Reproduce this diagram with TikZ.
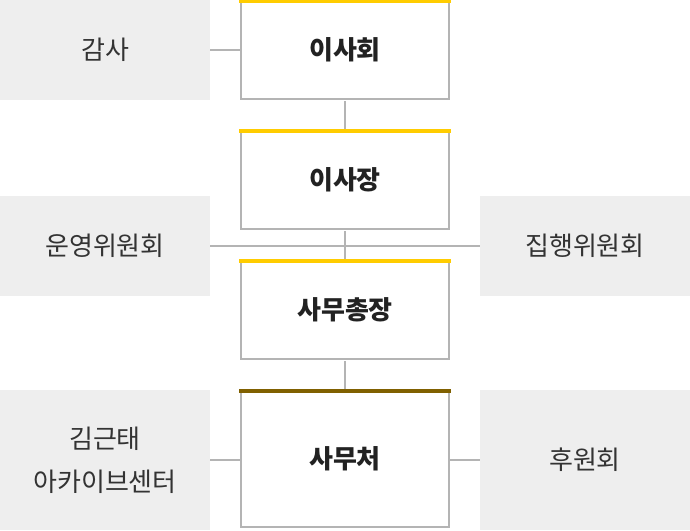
\documentclass[tikz,border=0pt]{standalone}
\usepackage{fontspec}
\newfontfamily\kr{Noto Sans CJK KR}
\definecolor{sidefill}{RGB}{238,238,238}
\definecolor{boxline}{RGB}{180,180,180}
\definecolor{topyellow}{RGB}{255,204,0}
\definecolor{topbrown}{RGB}{128,96,0}
\definecolor{maintext}{RGB}{34,34,34}
\definecolor{sidetext}{RGB}{51,51,51}
\tikzset{
  mainbox/.style={draw=boxline, line width=2pt, fill=white, minimum width=208pt, inner sep=0pt, font=\kr\bfseries\fontsize{26pt}{30pt}\selectfont, text=maintext},
  sidebox/.style={fill=sidefill, minimum width=210pt, inner sep=0pt, align=center, font=\kr\fontsize{26pt}{43pt}\selectfont, text=sidetext},
  conn/.style={draw=boxline, line width=2pt},
  topbar/.style={fill=#1},
}
\begin{document}
\begin{tikzpicture}[x=1pt,y=-1pt]
\useasboundingbox (0,0) rectangle (690,530);
% side boxes
\node[sidebox, minimum height=100pt] (gamsa) at (105,50) {감사};
\node[sidebox, minimum height=100pt] (unyeong) at (105,246) {운영위원회};
\node[sidebox, minimum height=100pt] (jiphaeng) at (585,246) {집행위원회};
\node[sidebox, minimum height=140pt] (archive) at (105,460) {김근태\\아카이브센터};
\node[sidebox, minimum height=140pt] (huwon) at (585,460) {후원회};
% main boxes
\node[mainbox, minimum height=98pt] (isahoe) at (345,50) {이사회};
\node[mainbox, minimum height=98pt] (isajang) at (345,180) {이사장};
\node[mainbox, minimum height=98pt] (chongjang) at (345,310) {사무총장};
\node[mainbox, minimum height=136pt] (samucheo) at (345,459) {사무처};
% top bars
\foreach \b/\c in {isahoe/topyellow, isajang/topyellow, chongjang/topyellow, samucheo/topbrown}
  \path[topbar=\c] ([xshift=-1pt,yshift=1pt]\b.north west) rectangle ([xshift=1pt,yshift=-3pt]\b.north east);
% connectors
\path[conn] (gamsa.east) -- (isahoe.west);
\path[conn] ([yshift=-1pt]isahoe.south) -- ([yshift=1pt]isajang.north);
\path[conn] ([yshift=-1pt]isajang.south) -- ([yshift=1pt]chongjang.north);
\path[conn] (unyeong.east) -- (jiphaeng.west);
\path[conn] ([yshift=-1pt]chongjang.south) -- ([yshift=1pt]samucheo.north);
\path[conn] (archive.east) -- (archive.east -| samucheo.west);
\path[conn] (huwon.west) -- (huwon.west -| samucheo.east);
\end{tikzpicture}
\end{document}
